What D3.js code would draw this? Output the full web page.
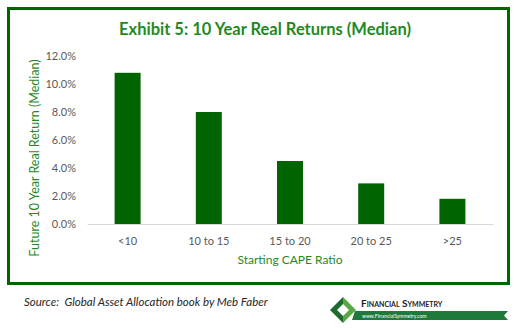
<!DOCTYPE html>
<html>
<head>
<meta charset="utf-8">
<script src="https://cdn.jsdelivr.net/npm/d3@7"></script>
<style>
  body { margin: 0; background: #fff; }
  svg { display: block; font-family: Lato, "Open Sans", sans-serif; }
</style>
</head>
<body>
<svg id="chart"></svg>
<script>
// Chart data
const categories = ["<10", "10 to 15", "15 to 20", "20 to 25", ">25"];
const medianReturns = [10.8, 8.0, 4.5, 2.9, 1.8];
const yTicks = [0, 2, 4, 6, 8, 10, 12];

const titleText = "Exhibit 5: 10 Year Real Returns (Median)";
const xTitle = "Starting CAPE Ratio";
const yTitle = "Future 10 Year Real Return (Median)";
const sourceText = "Source:  Global Asset Allocation book by Meb Faber";

const width = 518;
const height = 328;
const green = "#006400";
const textGreen = "#1f8a1f";

const svg = d3.select("#chart").attr("width", width).attr("height", height);

// Outer frame
svg.append("rect")
  .attr("x", 8.5).attr("y", 8.5)
  .attr("width", 500).attr("height", 275)
  .attr("fill", "none")
  .attr("stroke", green)
  .attr("stroke-width", 3);

// Title
svg.append("text")
  .attr("x", 265).attr("y", 35)
  .attr("text-anchor", "middle")
  .attr("font-size", 16.5)
  .attr("font-weight", "bold")
  .attr("fill", textGreen)
  .text(titleText);

// Scales
const x = d3.scaleBand().domain(categories).range([87, 493]).paddingInner(0.68).paddingOuter(0.34);
const y = d3.scaleLinear().domain([0, 12]).range([224, 56]);

// Y axis labels
const yAxis = svg.append("g")
  .attr("transform", "translate(76,0)")
  .call(d3.axisLeft(y).tickValues(yTicks).tickSize(0).tickPadding(0).tickFormat((d) => d.toFixed(1) + "%"));
yAxis.select(".domain").remove();
yAxis.selectAll("text")
  .attr("font-size", 11)
  .attr("fill", "#595959")
  .attr("font-family", "Lato, 'Open Sans', sans-serif");

// Bars
svg.selectAll("rect.bar")
  .data(medianReturns)
  .enter()
  .append("rect")
  .attr("class", "bar")
  .attr("x", (d, i) => x(categories[i]))
  .attr("y", (d) => y(d))
  .attr("width", x.bandwidth())
  .attr("height", (d) => y(0) - y(d))
  .attr("fill", green);

// X axis baseline and labels
const xAxis = svg.append("g")
  .attr("transform", "translate(0," + y(0) + ")")
  .call(d3.axisBottom(x).tickSize(0).tickPadding(13));
xAxis.select(".domain").attr("stroke", "#d9d9d9").attr("stroke-width", 1);
xAxis.selectAll("text")
  .attr("font-size", 11)
  .attr("fill", "#595959")
  .attr("font-family", "Lato, 'Open Sans', sans-serif");

// Axis titles
svg.append("text")
  .attr("x", 290).attr("y", 264)
  .attr("text-anchor", "middle")
  .attr("font-size", 12)
  .attr("fill", textGreen)
  .text(xTitle);

svg.append("text")
  .attr("transform", "translate(39,158) rotate(-90)")
  .attr("text-anchor", "middle")
  .attr("font-size", 12.5)
  .attr("fill", textGreen)
  .text(yTitle);

// Source note
svg.append("text")
  .attr("x", 24).attr("y", 306)
  .attr("font-size", 11.5)
  .attr("font-style", "italic")
  .attr("fill", "#262626")
  .style("white-space", "pre")
  .text(sourceText);

// Logo
const logo = svg.append("g");
logo.append("path")
  .attr("d", "M343,297 L330,310 L343,323 Z")
  .attr("fill", "#1e6b2e");
logo.append("path")
  .attr("d", "M343,297 L356,310 L343,323 Z")
  .attr("fill", "#5aa845");
logo.append("path")
  .attr("d", "M343,304 L337,310 L343,316 L349,310 Z")
  .attr("fill", "#fff");
logo.append("path")
  .attr("d", "M355,311 L508,311 L504,315.5 L508,320 L352,320 Z")
  .attr("fill", "#1e7a3a");
logo.append("text")
  .attr("x", 361).attr("y", 307)
  .attr("font-size", 10)
  .attr("font-weight", "bold")
  .attr("fill", "#222")
  .attr("font-variant", "small-caps")
  .text("Financial Symmetry");
logo.append("text")
  .attr("x", 362).attr("y", 317.5)
  .attr("font-size", 5)
  .attr("fill", "#fff")
  .text("www.FinancialSymmetry.com");
</script>
</body>
</html>
